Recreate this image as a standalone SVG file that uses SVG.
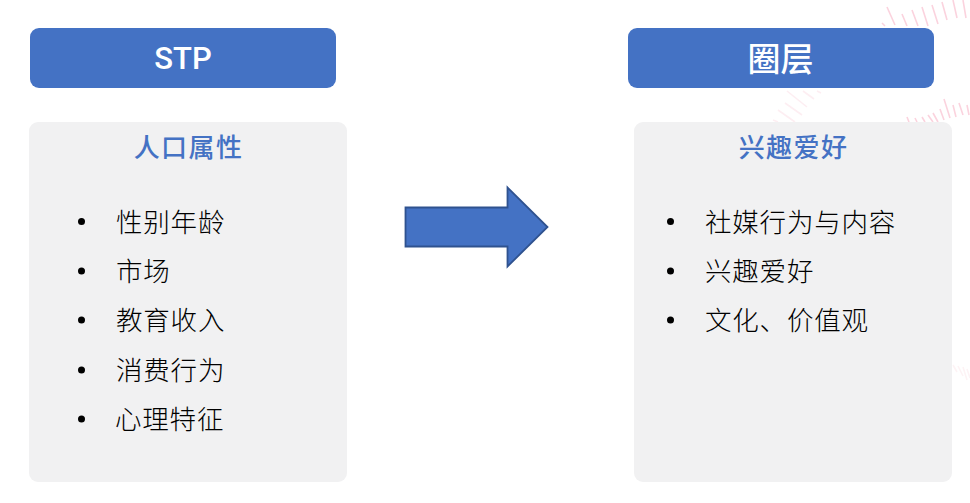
<svg xmlns="http://www.w3.org/2000/svg" width="970" height="503" viewBox="0 0 970 503">
<style>
.hd{fill:#4472c4}
.pn{fill:#f1f1f2}
.t{stroke:#fbd3de;stroke-width:1.6;fill:none}
.f{stroke:#fdeef2;stroke-width:1.6;fill:none}
.g{stroke:#fdf3f5;stroke-width:1.6;fill:none}
text{font-family:"Noto Sans CJK SC","Liberation Sans",sans-serif}
.h{fill:#fff;font-size:33px;font-weight:500;text-anchor:middle}
.s{fill:#4472c4;font-size:26px;font-weight:500;text-anchor:middle;letter-spacing:1.400px}
.i{fill:#000;font-size:26.500px;font-weight:300;letter-spacing:0.800px}
.b{fill:#000}
</style>
<rect width="970" height="503" fill="#fff"/>
<g id="decor">
<path class="t" d="M887 7L895 25M902 14L907 26M912 10L918 26M922 7L928 26M932 5L938 24M942 2L947 20M953 0L957 18M963 0L966 18M882 23L885 26"/>
<path class="t" d="M907 117L909 122M915 118L917 122M922 117L925 122M928 115L933 122M933 113L938 122M940 109L944 120M944 99L950 118M953 105L956 117M959 103L963 115M967 105L969 115"/>
<path class="f" d="M787 91L807 107M803 91L814 99M817 91L821 93M785 103L802 115M778 110L795 122M773 120L778 122"/>
<path class="g" d="M953 365L957 372M958 366L963 376M963 367L967 380M967 369L970 378"/>
</g>
<g id="connectors">
<path d="M405.500 207.500H507.500V187.500L547.500 227L507.500 266.500V246.500H405.500Z" fill="#4472c4" stroke="#2f528f" stroke-width="1.800"/>
</g>
<g id="stp-header">
<rect class="hd" x="30" y="28" width="306" height="60" rx="9"/>
<text class="h" x="183" y="69" style="font-family:Roboto,'Liberation Sans',sans-serif;font-size:31px;font-weight:500">STP</text>
</g>
<g id="quan-header">
<rect class="hd" x="628" y="28" width="306" height="60" rx="9"/>
<text class="h" x="780.500" y="71">圈层</text>
</g>
<g id="left-panel">
<rect class="pn" x="29" y="122" width="318" height="360" rx="9"/>
<text class="s" x="188.500" y="157">人口属性</text>
<circle class="b" cx="81.500" cy="221.500" r="3.500"/>
<text class="i" x="116" y="232">性别年龄</text>
<circle class="b" cx="81.500" cy="271" r="3.500"/>
<text class="i" x="116" y="281">市场</text>
<circle class="b" cx="81.500" cy="320" r="3.500"/>
<text class="i" x="116" y="330">教育收入</text>
<circle class="b" cx="81.500" cy="370" r="3.500"/>
<text class="i" x="116" y="380">消费行为</text>
<circle class="b" cx="81.500" cy="419" r="3.500"/>
<text class="i" x="115" y="429">心理特征</text>
</g>
<g id="right-panel">
<rect class="pn" x="634" y="122" width="318" height="360" rx="9"/>
<text class="s" x="793.500" y="157">兴趣爱好</text>
<circle class="b" cx="670.500" cy="221.500" r="3.500"/>
<text class="i" x="705" y="232">社媒行为与内容</text>
<circle class="b" cx="670.500" cy="271" r="3.500"/>
<text class="i" x="705" y="281">兴趣爱好</text>
<circle class="b" cx="670.500" cy="320" r="3.500"/>
<text class="i" x="705" y="330">文化、价值观</text>
</g>
</svg>
